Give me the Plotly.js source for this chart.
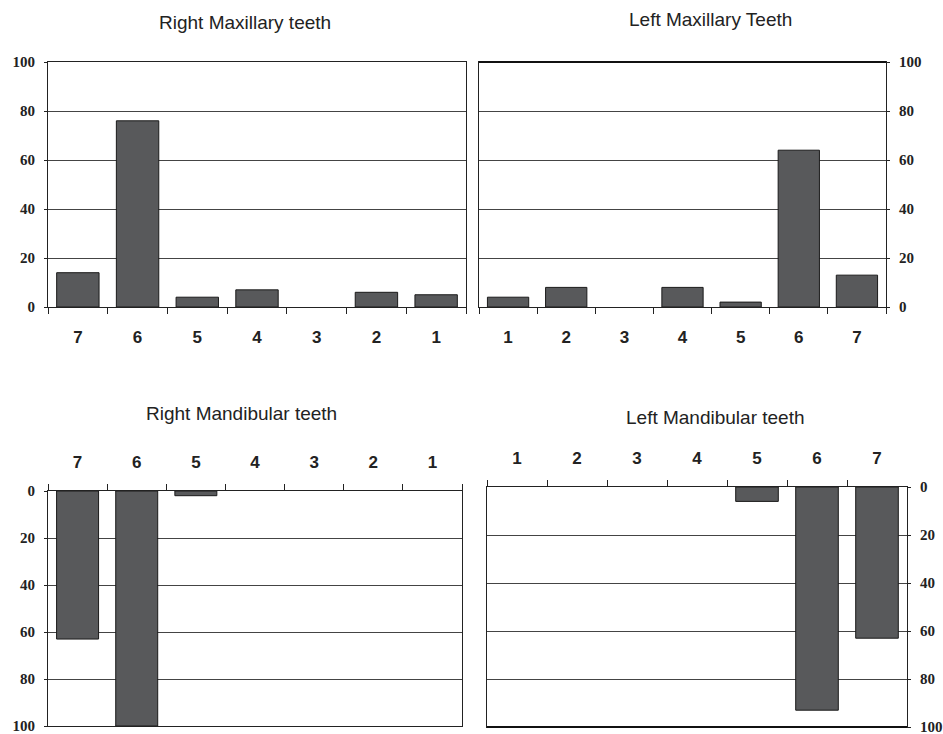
<!DOCTYPE html>
<html>
<head>
<meta charset="utf-8">
<script src="https://cdn.plot.ly/plotly-3.0.1.min.js"></script>
<style>html,body{margin:0;padding:0;background:#fff;}#chart{width:943px;height:734px;}</style>
</head>
<body>
<div id="chart"></div>
<script>
// Data
const rightMaxCats = ['7','6','5','4','3','2','1'];
const rightMaxVals = [14, 76, 4, 7, 0, 6, 5];
const leftMaxCats = ['1','2','3','4','5','6','7'];
const leftMaxVals = [4, 8, 0, 8, 2, 64, 13];
const rightMandCats = ['7','6','5','4','3','2','1'];
const rightMandVals = [63, 100, 2, 0, 0, 0, 0];
const leftMandCats = ['1','2','3','4','5','6','7'];
const leftMandVals = [0, 0, 0, 0, 6, 93, 63];
const yTicks = [0, 20, 40, 60, 80, 100];

const titles = ['Right Maxillary teeth', 'Left Maxillary Teeth', 'Right Mandibular teeth', 'Left Mandibular teeth'];

const barColor = '#58595b';
function barTrace(cats, vals, xa, ya) {
  return {
    type: 'bar', x: cats, y: vals, xaxis: xa, yaxis: ya,
    marker: {color: barColor, line: {color: '#1a1a1a', width: vals.map(v => v ? 1 : 0)}},
    hoverinfo: 'x+y', showlegend: false
  };
}

const data = [
  barTrace(rightMaxCats, rightMaxVals, 'x', 'y'),
  barTrace(leftMaxCats, leftMaxVals, 'x2', 'y2'),
  barTrace(rightMandCats, rightMandVals, 'x3', 'y3'),
  barTrace(leftMandCats, leftMandVals, 'x4', 'y4')
];

const xFont = {family: 'Liberation Sans, Arial, sans-serif', size: 17, color: '#222', weight: 'bold'};
const yFont = {family: 'Liberation Serif, Times New Roman, serif', size: 15, color: '#222', weight: 'bold'};

function xAxis(domain, anchor, side, cats) {
  return {
    domain: domain, anchor: anchor, side: side, type: 'category',
    categoryorder: 'array', categoryarray: cats,
    showline: true, linecolor: '#222', linewidth: 1, mirror: true,
    ticks: 'outside', ticklen: 6, tickcolor: '#222', tickwidth: 1,
    tickson: 'boundaries', showgrid: false, zeroline: false,
    tickfont: xFont, ticklabelstandoff: 15, fixedrange: true
  };
}
function yAxis(domain, anchor, side, reversed) {
  return {
    domain: domain, anchor: anchor, side: side,
    range: reversed ? [100, 0] : [0, 100],
    tickvals: yTicks, ticktext: yTicks.map(String),
    showline: true, linecolor: '#222', linewidth: 1, mirror: true,
    ticks: 'outside', ticklen: 3, tickcolor: '#222',
    showgrid: true, gridcolor: '#444', gridwidth: 1, zeroline: false,
    tickfont: yFont, ticklabelstandoff: 6, ticklabeloverflow: 'allow', fixedrange: true
  };
}

const titleFont = {family: 'Liberation Sans, Arial, sans-serif', size: 19, color: '#222'};
function ann(text, x, y) {
  return {text: text, x: x / 943, y: 1 - y / 734, xref: 'paper', yref: 'paper',
          xanchor: 'center', yanchor: 'middle', showarrow: false, font: titleFont};
}

const layout = {
  width: 943, height: 734,
  margin: {l: 0, r: 0, t: 0, b: 0},
  paper_bgcolor: '#fff', plot_bgcolor: '#fff',
  bargap: 0.29,
  showlegend: false,
  xaxis: xAxis([48/943, 466/943], 'y', 'bottom', rightMaxCats),
  yaxis: yAxis([1 - 307/734, 1 - 62/734], 'x', 'left', false),
  xaxis2: xAxis([479/943, 886/943], 'y2', 'bottom', leftMaxCats),
  yaxis2: yAxis([1 - 307/734, 1 - 62/734], 'x2', 'right', false),
  xaxis3: xAxis([48/943, 462/943], 'y3', 'top', rightMandCats),
  yaxis3: yAxis([1 - 726/734, 1 - 491/734], 'x3', 'left', true),
  xaxis4: xAxis([487/943, 907/943], 'y4', 'top', leftMandCats),
  yaxis4: yAxis([1 - 727/734, 1 - 487/734], 'x4', 'right', true),
  shapes: [
    {type: 'line', xref: 'x2 domain', yref: 'y2 domain', x0: 0, x1: 1, y0: 1, y1: 1,
     line: {color: '#111', width: 2}},
    {type: 'line', xref: 'x4 domain', yref: 'y4 domain', x0: 0, x1: 1, y0: 0, y1: 0,
     line: {color: '#111', width: 2}}
  ],
  annotations: [
    ann(titles[0], 245, 22),
    ann(titles[1], 710, 20),
    ann(titles[2], 242, 413),
    ann(titles[3], 715, 417)
  ]
};

Plotly.newPlot('chart', data, layout, {displayModeBar: false, staticPlot: true});
</script>
</body>
</html>
